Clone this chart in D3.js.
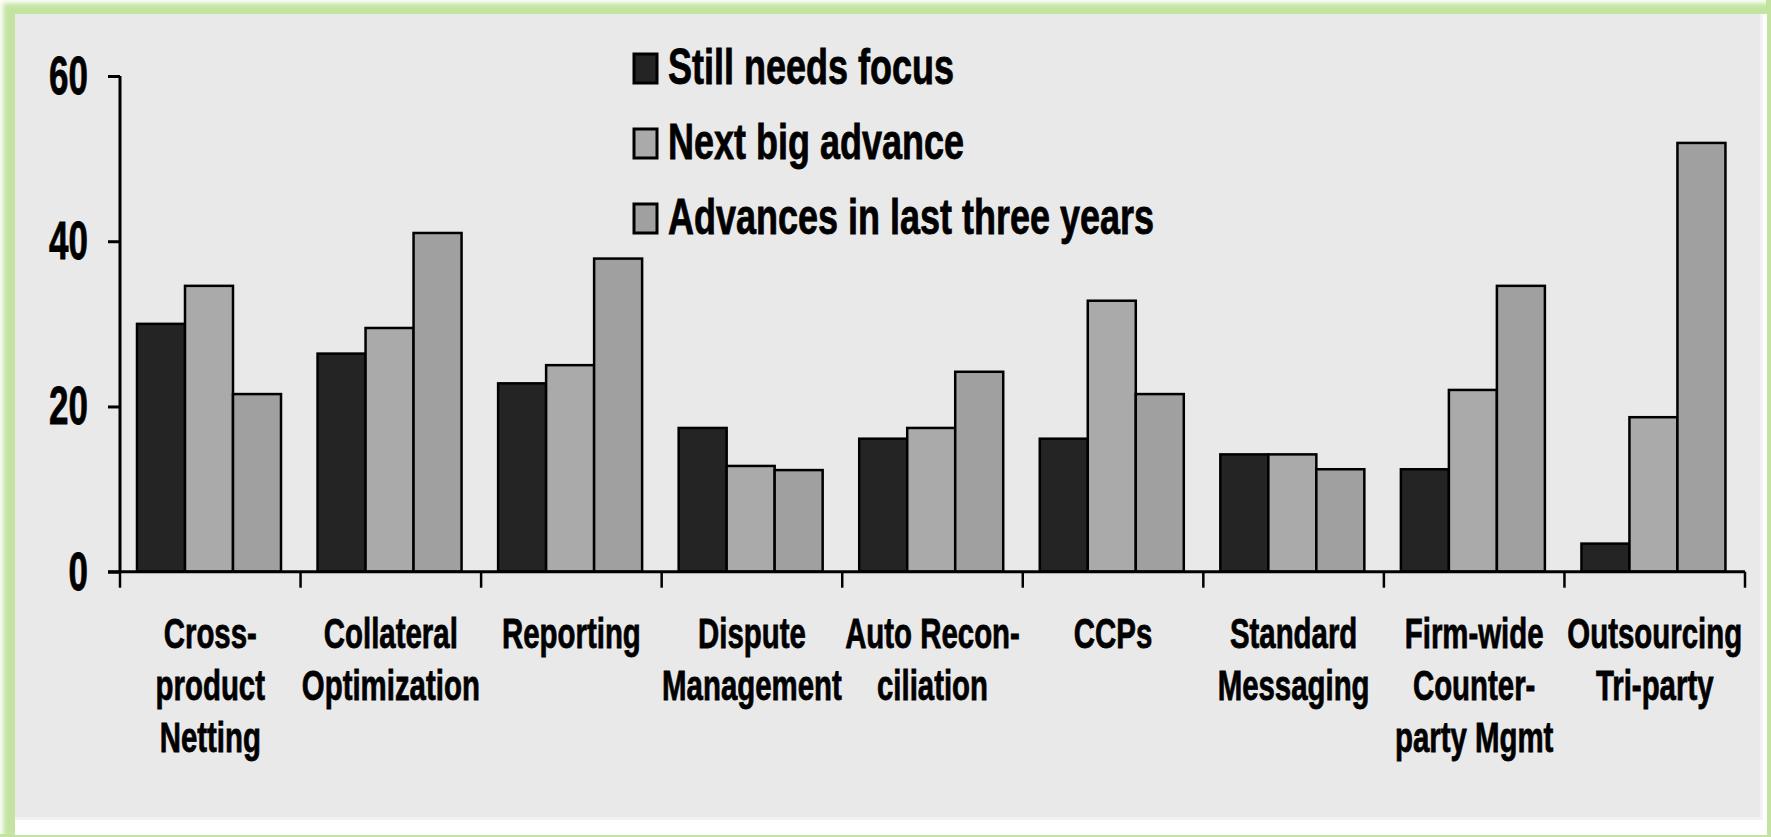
<!DOCTYPE html>
<html>
<head>
<meta charset="utf-8">
<script src="https://cdn.jsdelivr.net/npm/d3@7"></script>
<style>
  html, body { margin: 0; padding: 0; background: #ffffff; }
  svg { display: block; }
  text { font-family: "Liberation Sans", Arial, sans-serif; font-weight: bold; fill: #000; }
</style>
</head>
<body>
<div id="chart"></div>
<script>
// Chart data
var categories = ["Cross-product Netting", "Collateral Optimization", "Reporting", "Dispute Management",
  "Auto Reconciliation", "CCPs", "Standard Messaging", "Firm-wide Counterparty Mgmt", "Outsourcing Tri-party"];
var categoryLines = [
  ["Cross-", "product", "Netting"],
  ["Collateral", "Optimization"],
  ["Reporting"],
  ["Dispute", "Management"],
  ["Auto Recon-", "ciliation"],
  ["CCPs"],
  ["Standard", "Messaging"],
  ["Firm-wide", "Counter-", "party Mgmt"],
  ["Outsourcing", "Tri-party"]
];
var seriesNames = ["Still needs focus", "Next big advance", "Advances in last three years"];
var stillNeedsFocus = [30, 26.4, 22.8, 17.4, 16.1, 16.1, 14.2, 12.4, 3.4];
var nextBigAdvance = [34.6, 29.5, 25, 12.8, 17.4, 32.8, 14.2, 22, 18.7];
var advancesLastThree = [21.5, 41, 37.9, 12.3, 24.2, 21.5, 12.4, 34.6, 51.9];
var yTicks = [0, 20, 40, 60];
var seriesColors = ["#242424", "#aaaaaa", "#a0a0a0"];

var W = 1771, H = 837;
var seriesValues = [stillNeedsFocus, nextBigAdvance, advancesLastThree];

var svg = d3.select("#chart").append("svg")
  .attr("width", W)
  .attr("height", H);

// Frame: soft green border, white strip, grey panel
var defs = svg.append("defs");
defs.append("filter").attr("id", "soft")
  .attr("x", "-5%").attr("y", "-5%").attr("width", "110%").attr("height", "110%")
  .append("feGaussianBlur").attr("stdDeviation", 2.5);

svg.append("rect").attr("x", 0).attr("y", 0).attr("width", W).attr("height", H).attr("fill", "#ffffff");
svg.append("rect")
  .attr("x", 3).attr("y", 3).attr("width", W - 3).attr("height", H - 3)
  .attr("fill", "#c2e4a0")
  .attr("filter", "url(#soft)");
svg.append("rect").attr("x", 0).attr("y", H - 3).attr("width", W).attr("height", 3).attr("fill", "#c2e4a0");
svg.append("rect").attr("x", W - 5).attr("y", 0).attr("width", 5).attr("height", H).attr("fill", "#c2e4a0");
svg.append("rect")
  .attr("x", 15).attr("y", 14).attr("width", 1752).attr("height", 821)
  .attr("fill", "#ffffff");
svg.append("rect")
  .attr("x", 15).attr("y", 14).attr("width", 1748).attr("height", 806)
  .attr("fill", "#f2f2f2");
svg.append("rect")
  .attr("x", 15).attr("y", 14).attr("width", 1745).attr("height", 803)
  .attr("fill", "#e9e9e9");

// Scales
var x0 = d3.scaleBand().domain(categories).range([120, 1745]).padding(0);
var x1 = d3.scaleBand().domain(seriesNames).range([17, 17 + 144]).padding(0);
var y = d3.scaleLinear().domain([0, 60]).range([571.7, 76]);

// helper: condensed bold text (the original font is a narrow bold face)
function narrowText(parent, x, yy, str, size, sx, anchor) {
  var g = parent.append("g").attr("transform", "translate(" + x + "," + yy + ")");
  g.append("text")
    .attr("transform", "scale(" + sx + ",1)")
    .attr("text-anchor", anchor)
    .style("font-size", size + "px")
    .style("stroke", "#000")
    .style("stroke-width", 0.8)
    .text(str);
  return g;
}

// Bars
var groups = svg.append("g").selectAll("g")
  .data(categories)
  .join("g")
  .attr("transform", function(d) { return "translate(" + x0(d) + ",0)"; });

groups.selectAll("rect")
  .data(function(d, i) {
    return seriesNames.map(function(s, j) { return {key: s, j: j, value: seriesValues[j][i]}; });
  })
  .join("rect")
  .attr("x", function(d) { return x1(d.key); })
  .attr("y", function(d) { return y(d.value); })
  .attr("width", x1.bandwidth())
  .attr("height", function(d) { return y(0) - y(d.value); })
  .attr("fill", function(d) { return seriesColors[d.j]; })
  .attr("stroke", "#000")
  .attr("stroke-width", 2.5);

// Y axis
var yAxis = svg.append("g")
  .attr("transform", "translate(120,0)")
  .call(d3.axisLeft(y).tickValues(yTicks).tickSize(12).tickFormat(""));
yAxis.select(".domain").attr("stroke", "#000").attr("stroke-width", 3)
  .attr("d", "M0," + y(60) + "V" + y(0));
yAxis.selectAll(".tick line").attr("stroke", "#000").attr("stroke-width", 3);
yTicks.forEach(function(t) {
  narrowText(svg, 88, y(t) + 18, String(t), 53, 0.66, "end");
});

// X axis
var xTickPos = categories.map(function(c) { return x0(c); }).concat([x0.range()[1]]);
var xAxis = svg.append("g");
xAxis.append("line")
  .attr("x1", 108).attr("x2", 1745)
  .attr("y1", y(0)).attr("y2", y(0))
  .attr("stroke", "#000").attr("stroke-width", 3);
xAxis.selectAll("line.tk")
  .data(xTickPos)
  .join("line")
  .attr("class", "tk")
  .attr("x1", function(d) { return d; }).attr("x2", function(d) { return d; })
  .attr("y1", y(0)).attr("y2", y(0) + 16)
  .attr("stroke", "#000").attr("stroke-width", 2.5);

// Category labels
categories.forEach(function(c, i) {
  var cx = x0(c) + x0.bandwidth() / 2;
  categoryLines[i].forEach(function(line, k) {
    narrowText(svg, cx, 648 + k * 52, line, 42, 0.70, "middle");
  });
});

// Legend
var legendBase = [84, 159, 234];
seriesNames.forEach(function(s, j) {
  svg.append("rect")
    .attr("x", 634).attr("y", legendBase[j] - 30)
    .attr("width", 23).attr("height", 29)
    .attr("fill", seriesColors[j])
    .attr("stroke", "#000").attr("stroke-width", 3);
  narrowText(svg, 668, legendBase[j], s, 50, 0.72, "start");
});
</script>
</body>
</html>
